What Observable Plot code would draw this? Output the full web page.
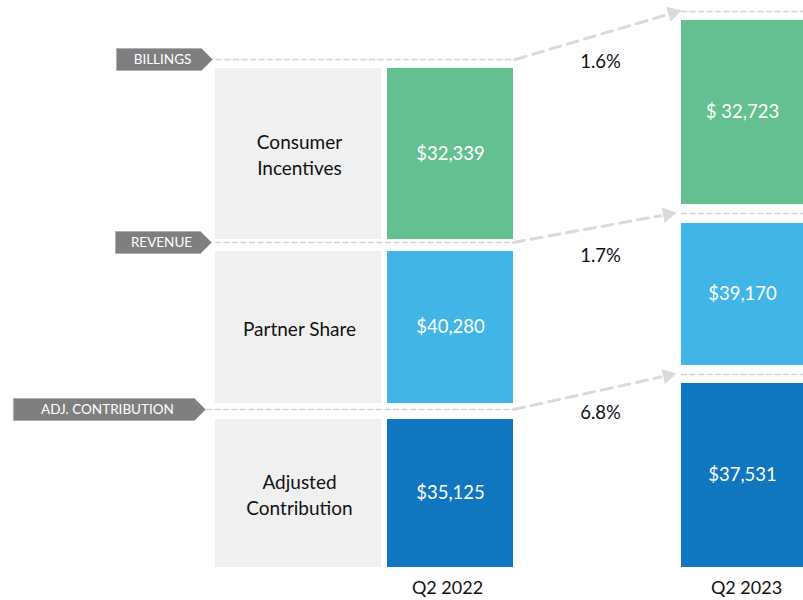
<!DOCTYPE html>
<html>
<head>
<meta charset="utf-8">
<script src="https://cdn.jsdelivr.net/npm/d3@7"></script>
<script src="https://cdn.jsdelivr.net/npm/@observablehq/plot@0.6"></script>
<style>
  html, body { margin: 0; padding: 0; background: #fff; }
  #chart svg { display: block; }
</style>
</head>
<body>
<div id="chart"></div>
<script>
// ---------- data ----------
const categories = ["Consumer Incentives", "Partner Share", "Adjusted Contribution"];
const categoryLabels = ["Consumer\nIncentives", "Partner Share", "Adjusted\nContribution"];
const periods = ["Q2 2022", "Q2 2023"];
const values2022 = [32339, 40280, 35125];
const values2023 = [32723, 39170, 37531];
const valueLabels2022 = ["$32,339", "$40,280", "$35,125"];
const valueLabels2023 = ["$ 32,723", "$39,170", "$37,531"];
const changes = ["1.6%", "1.7%", "6.8%"];
const tags = ["BILLINGS", "REVENUE", "ADJ. CONTRIBUTION"];

// ---------- layout (diagram geometry, in layout units) ----------
const W = 803, H = 600;
const rows2022 = [[68, 239], [251, 403], [419, 567]];
const rows2023 = [[20, 204], [223, 365], [383, 567]];
const greyX = [215, 381];
const bar2022X = [387, 513];
const bar2023X = [681, 803];
const line2022Y = [59, 242, 409];
const line2023Y = [11, 213, 374];
const lineStartX = [216, 215, 206];
const diagStartX = [515, 513, 513];
const arrowTipX = [677, 672, 672];
const tagLeft = [116, 115, 13];
const tagTip = [212, 211, 205];
const pctY = [62, 256, 413];
const colors = ["#64bf91", "#40b5e6", "#1176c0"];

const font = "Lato, 'Open Sans', sans-serif";

// build tables
const boxes = categories.map((c, i) => ({
  cat: c, label: categoryLabels[i], period: periods[0],
  x1: greyX[0], x2: greyX[1], y1: rows2022[i][0], y2: rows2022[i][1]
}));
const bars = [
  ...categories.map((c, i) => ({cat: c, period: periods[0], value: values2022[i], label: valueLabels2022[i],
    x1: bar2022X[0], x2: bar2022X[1], y1: rows2022[i][0], y2: rows2022[i][1]})),
  ...categories.map((c, i) => ({cat: c, period: periods[1], value: values2023[i], label: valueLabels2023[i],
    x1: bar2023X[0], x2: bar2023X[1], y1: rows2023[i][0], y2: rows2023[i][1]}))
];
const hLines = [];
tags.forEach((t, i) => {
  hLines.push({id: t + "a", x: lineStartX[i], y: line2022Y[i]});
  hLines.push({id: t + "a", x: diagStartX[i], y: line2022Y[i]});
  hLines.push({id: t + "b", x: bar2023X[0], y: line2023Y[i]});
  hLines.push({id: t + "b", x: W, y: line2023Y[i]});
});
const diag = [], heads = [];
tags.forEach((t, i) => {
  const x0 = diagStartX[i], y0 = line2022Y[i], x1 = arrowTipX[i], y1 = line2023Y[i];
  const dx = x1 - x0, dy = y1 - y0, len = Math.hypot(dx, dy);
  const ux = dx / len, uy = dy / len;
  diag.push({id: t, x: x0, y: y0});
  diag.push({id: t, x: x1 - ux * 12, y: y1 - uy * 12});
  heads.push({id: t, x: x1 - ux * 5, y: y1 - uy * 5, rot: Math.atan2(dy, dx) * 180 / Math.PI + 90});
});
const tagShapes = [];
tags.forEach((t, i) => {
  const h = 11, y = line2022Y[i], x0 = tagLeft[i], x2 = tagTip[i], x1 = x2 - 11;
  [[x0, y - h], [x1, y - h], [x2, y], [x1, y + h], [x0, y + h], [x0, y - h]]
    .forEach(([x, yy]) => tagShapes.push({tag: t, x, y: yy}));
});
const tagText = tags.map((t, i) => ({tag: t, x: (tagLeft[i] + tagTip[i] - 4) / 2, y: line2022Y[i]}));
const pct = changes.map((c, i) => ({c, x: (bar2022X[1] + bar2023X[0]) / 2 + 3, y: pctY[i]}));
const periodLabels = [
  {p: periods[0], x: (bar2022X[0] + bar2022X[1]) / 2 - 3, y: 588},
  {p: periods[1], x: (bar2023X[0] + bar2023X[1]) / 2 + 4, y: 588}
];

const chart = Plot.plot({
  width: W, height: H,
  margin: 0,
  style: {fontFamily: font, background: "#fff"},
  x: {domain: [0, W], range: [0, W], axis: null},
  y: {domain: [0, H], range: [0, H], axis: null},
  color: {domain: categories, range: colors},
  marks: [
    Plot.rect(boxes, {x1: "x1", x2: "x2", y1: "y1", y2: "y2", fill: "#f0f0f0"}),
    Plot.text(boxes, {x: d => (d.x1 + d.x2) / 2 + 1, y: d => (d.y1 + d.y2) / 2, text: "label",
      fill: "#111", fontSize: 19, lineHeight: 1.37}),
    Plot.rect(bars, {x1: "x1", x2: "x2", y1: "y1", y2: "y2", fill: "cat"}),
    Plot.text(bars, {x: d => (d.x1 + d.x2) / 2, y: d => (d.y1 + d.y2) / 2, text: "label",
      fill: "#fff", fontSize: 18.5}),
    Plot.line(hLines, {x: "x", y: "y", z: "id", stroke: "#d4d4d4", strokeWidth: 1.6, strokeDasharray: "5,3.5"}),
    Plot.line(diag, {x: "x", y: "y", z: "id", stroke: "#d9d9d9", strokeWidth: 3, strokeDasharray: "11,7"}),
    Plot.dot(heads, {x: "x", y: "y", symbol: "triangle2", r: 7.5, fill: "#d9d9d9", stroke: "none", rotate: "rot"}),
    Plot.line(tagShapes, {x: "x", y: "y", z: "tag", fill: "#7f7f7f", stroke: "#b0b0b0", strokeWidth: 1, curve: "linear"}),
    Plot.text(tagText, {x: "x", y: "y", text: "tag", fill: "#fff", fontSize: 13.5}),
    Plot.text(pct, {x: "x", y: "y", text: "c", fill: "#111", fontSize: 18.5}),
    Plot.text(periodLabels, {x: "x", y: "y", text: "p", fill: "#111", fontSize: 18})
  ]
});
document.getElementById("chart").appendChild(chart);
</script>
</body>
</html>
